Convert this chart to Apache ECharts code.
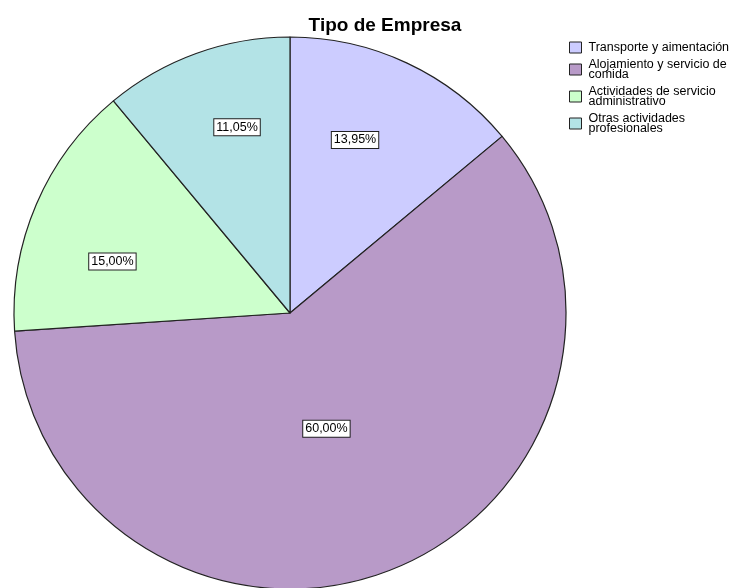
<!DOCTYPE html>
<html>
<head>
<meta charset="utf-8">
<script src="https://cdn.jsdelivr.net/npm/echarts@6/dist/echarts.min.js"></script>
<style>
  html, body { margin: 0; padding: 0; background: #fff; }
  #chart { width: 734px; height: 588px; }
</style>
</head>
<body>
<div id="chart"></div>
<script>
// Company type shares (percent)
const categories = [
  'Transporte y aimentación',
  'Alojamiento y servicio de comida',
  'Actividades de servicio administrativo',
  'Otras actividades profesionales'
];
const shares = [13.95, 60.00, 15.00, 11.05];
const legendLines = {
  'Transporte y aimentación': 'Transporte y aimentación',
  'Alojamiento y servicio de comida': 'Alojamiento y servicio de\ncomida',
  'Actividades de servicio administrativo': 'Actividades de servicio\nadministrativo',
  'Otras actividades profesionales': 'Otras actividades\nprofesionales'
};
const colors = ['#ccccff', '#b89ac8', '#ccffcc', '#b3e3e6'];

// Pie geometry; value boxes sit at a fraction of the radius and at a
// fraction of the way through each slice's sweep
const CX = 290, CY = 313, R = 276;
const labelRadius = [0.67, 0.44, 0.67, 0.70];
const labelSweep = [0.41, 0.52, 0.37, 0.60];

const total = shares.reduce((a, b) => a + b, 0);
function labelPoint(i) {
  let before = 0;
  for (let k = 0; k < i; k++) before += shares[k];
  const at = before + shares[i] * labelSweep[i];
  const ang = (90 - at / total * 360) * Math.PI / 180;
  const rr = R * labelRadius[i];
  return { x: CX + rr * Math.cos(ang), y: CY - rr * Math.sin(ang) };
}

const font = "'Liberation Sans', Arial, sans-serif";
const chart = echarts.init(document.getElementById('chart'), null, { renderer: 'canvas' });
chart.setOption({
  animation: false,
  color: colors,
  title: {
    text: 'Tipo de Empresa',
    left: 380,
    top: 11,
    textAlign: 'center',
    textStyle: { fontFamily: font, fontSize: 19, fontWeight: 'bold', color: '#000' }
  },
  legend: {
    orient: 'vertical',
    left: 569,
    top: 41,
    padding: 0,
    itemWidth: 12,
    itemHeight: 11,
    itemGap: 4,
    icon: 'rect',
    selectedMode: false,
    itemStyle: { borderColor: '#222', borderWidth: 1 },
    formatter: name => legendLines[name],
    textStyle: { fontFamily: font, fontSize: 12.5, lineHeight: 10, color: '#000', padding: [0, 0, 0, 2] },
    data: categories
  },
  series: [{
    type: 'pie',
    center: [CX, CY],
    radius: [0, R],
    startAngle: 90,
    clockwise: true,
    avoidLabelOverlap: false,
    itemStyle: { borderColor: '#222', borderWidth: 1.2 },
    emphasis: { disabled: true },
    label: {
      show: true,
      position: 'inside',
      formatter: p => p.value.toFixed(2).replace('.', ',') + '%',
      fontFamily: font,
      fontSize: 12.5,
      color: '#000',
      backgroundColor: '#fff',
      borderColor: '#222',
      borderWidth: 1,
      padding: [2, 2, 1, 2]
    },
    labelLine: { show: false },
    labelLayout: params => {
      const p = labelPoint(params.dataIndex);
      return { x: p.x, y: p.y, align: 'center', verticalAlign: 'middle' };
    },
    data: categories.map((c, i) => ({ name: c, value: shares[i] }))
  }]
});
</script>
</body>
</html>
